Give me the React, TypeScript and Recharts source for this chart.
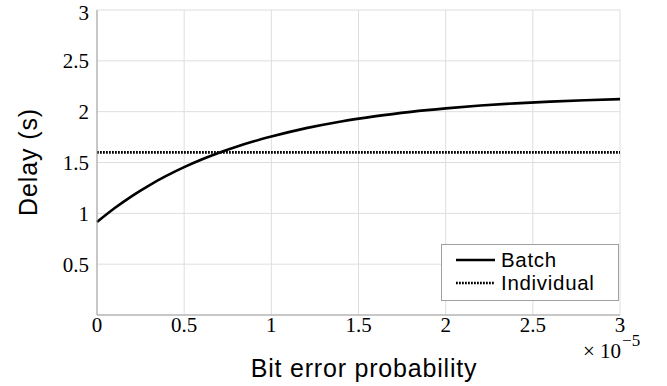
import { LineChart, Line, CartesianGrid, XAxis, YAxis, Legend, Label } from "recharts"

// x in units of 10^-5
const BER = [0, 0.1, 0.2, 0.3, 0.4, 0.5, 0.6, 0.7, 0.8, 0.9, 1.0, 1.2, 1.4, 1.6, 1.8, 2.0, 2.2, 2.4, 2.6, 2.8, 3.0]
const BATCH = [0.915, 1.05, 1.17, 1.276, 1.37, 1.454, 1.529, 1.596, 1.655, 1.708, 1.755, 1.838, 1.904, 1.956, 1.998, 2.032, 2.06, 2.082, 2.099, 2.112, 2.123]
const INDIVIDUAL = [1.6, 1.6, 1.6, 1.6, 1.6, 1.6, 1.6, 1.6, 1.6, 1.6, 1.6, 1.6, 1.6, 1.6, 1.6, 1.6, 1.6, 1.6, 1.6, 1.6, 1.6]
const X_TICKS = [0, 0.5, 1, 1.5, 2, 2.5, 3]
const Y_TICKS = [0.5, 1, 1.5, 2, 2.5, 3]
const SERIES = [
  { key: "batch", name: "Batch", dash: undefined },
  { key: "individual", name: "Individual", dash: "1.8 1.2" }
]

const rows = BER.map((x, i) => ({ x, batch: BATCH[i], individual: INDIVIDUAL[i] }))

const SERIF = "'Liberation Serif', 'Times New Roman', serif"
const SANS = "'Liberation Sans', Arial, sans-serif"

const LegendBox = () => (
  <div style={{
    width: 178, height: 57, boxSizing: "border-box", border: "1px solid #a0a0a0",
    background: "#fff", paddingTop: 3
  }}>
    {SERIES.map(s => (
      <div key={s.key} style={{ display: "flex", alignItems: "center", height: 23, fontFamily: SANS, fontSize: 20.5, letterSpacing: 0.7, color: "#000" }}>
        <svg width={59} height={10} style={{ flex: "none" }}>
          <line x1={14} x2={53} y1={5} y2={5} stroke="#000" strokeWidth={2.6} strokeDasharray={s.dash} />
        </svg>
        <span>{s.name}</span>
      </div>
    ))}
  </div>
)

const App: React.FC = (): JSX.Element => {
  return (
    <div style={{ position: "absolute", left: 0, top: 0, background: "#fff" }}>
      <LineChart width={667} height={386} data={rows} margin={{ top: 10, right: 47, left: 0, bottom: 0 }}>
        <CartesianGrid stroke="#dedede" strokeWidth={1} />
        <XAxis
          type="number"
          dataKey="x"
          domain={[0, 3]}
          ticks={X_TICKS}
          height={71}
          tickLine={false}
          tickSize={0}
          tickMargin={2}
          stroke="#a0a0a0"
          tick={{ fill: "#000", fontFamily: SERIF, fontSize: 21 }}
        >
          <Label content={() => (
            <g>
              <text x={364} y={377} textAnchor="middle" fontFamily={SANS} fontSize={25} letterSpacing={0.8} fill="#000">
                Bit error probability
              </text>
              <text x={583} y={358} fontFamily={SERIF} fontSize={21} fill="#000">
                × 10<tspan dx={1} dy={-12} fontSize={17}>−5</tspan>
              </text>
            </g>
          )} />
        </XAxis>
        <YAxis
          type="number"
          domain={[0, 3]}
          ticks={Y_TICKS}
          width={97}
          tickLine={false}
          tickSize={0}
          tickMargin={8}
          stroke="#a0a0a0"
          tick={{ fill: "#000", fontFamily: SERIF, fontSize: 21 }}
        >
          <Label content={() => (
            <text x={0} y={0} transform="translate(37,162) rotate(-90)" textAnchor="middle" fontFamily={SANS} fontSize={25} letterSpacing={0.9} fill="#000">
              Delay (s)
            </text>
          )} />
        </YAxis>
        <Legend
          layout="horizontal"
          align="center"
          verticalAlign="middle"
          content={() => <LegendBox />}
          wrapperStyle={{ position: "absolute", left: 441, top: 244, width: 178, height: 57 }}
        />
        {SERIES.map(s => (
          <Line
            key={s.key}
            type="monotone"
            dataKey={s.key}
            name={s.name}
            stroke="#000"
            strokeWidth={2.6}
            strokeDasharray={s.dash}
            dot={false}
            activeDot={false}
            isAnimationActive={false}
          />
        ))}
      </LineChart>
    </div>
  )
}

export default App
